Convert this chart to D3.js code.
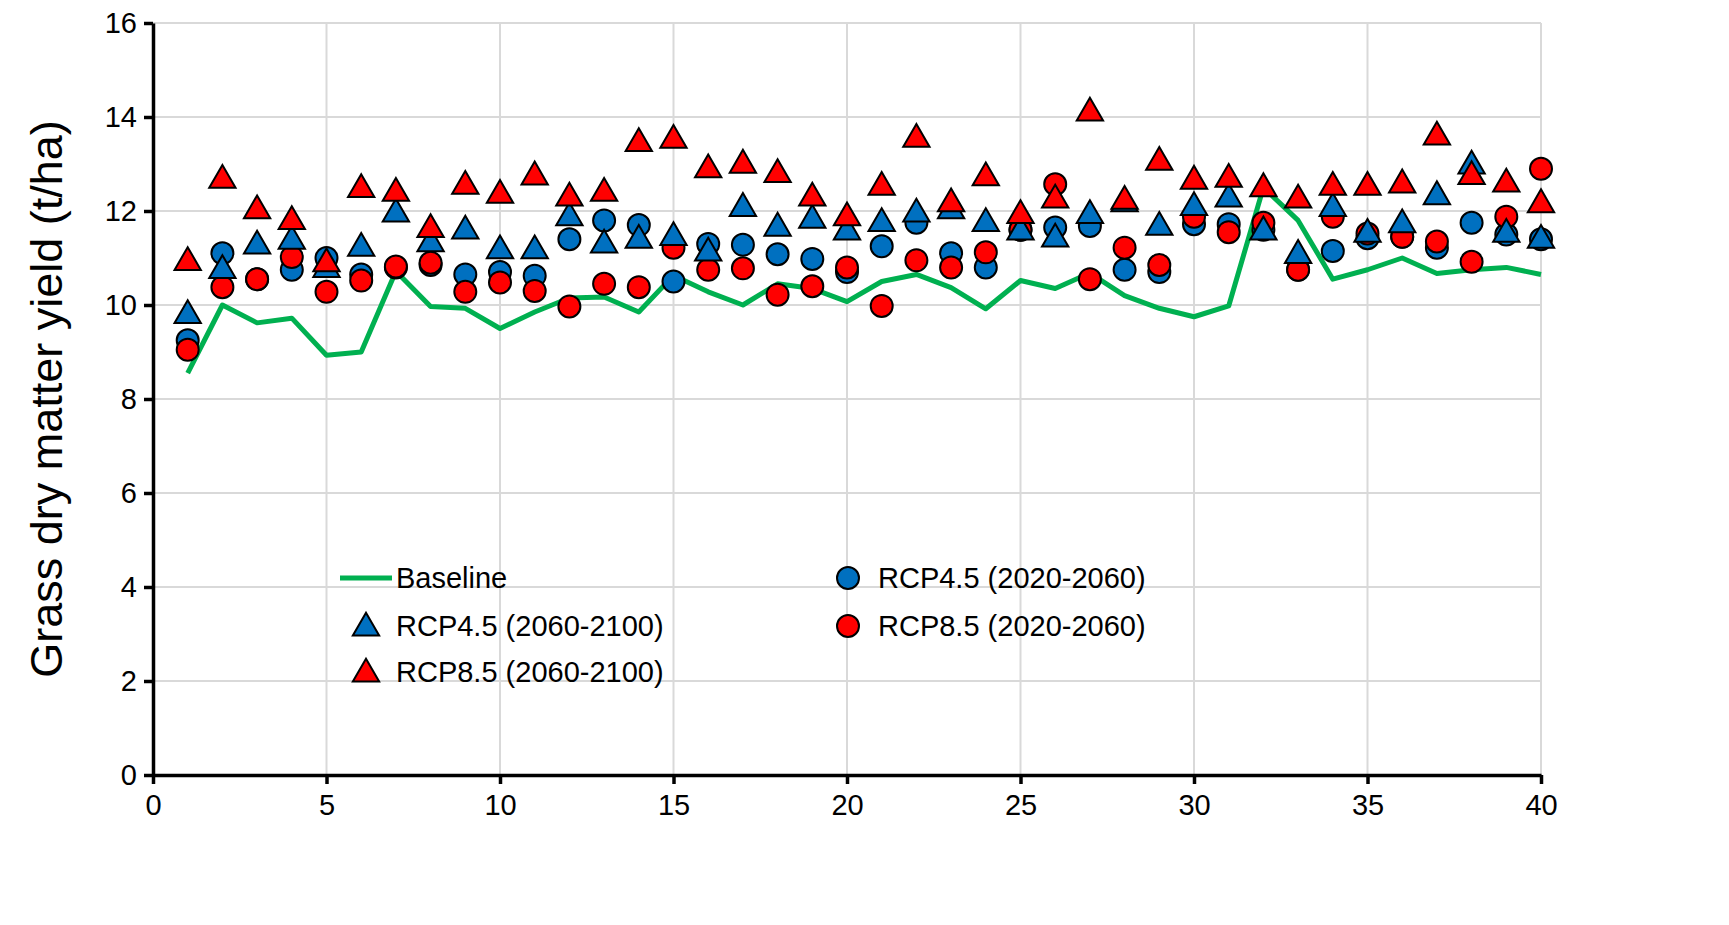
<!DOCTYPE html>
<html>
<head>
<style>
  body { margin: 0; background: #fff; }
  text { font-family: "Liberation Sans", Arial, sans-serif; }
</style>
</head>
<body>
<script src="https://d3js.org/d3.v7.min.js"></script>
<script>
const years = d3.range(1, 41);
const baseline = [8.55,10.0,9.62,9.72,8.93,9.0,10.72,9.97,9.93,9.5,9.85,10.15,10.17,9.85,10.63,10.28,10.0,10.45,10.35,10.07,10.5,10.65,10.37,9.92,10.52,10.35,10.68,10.2,9.93,9.75,9.98,12.5,11.8,10.55,10.75,11.0,10.67,10.75,10.8,10.65];
const rcp45near = [9.25,11.1,10.55,10.75,11.0,10.65,10.8,10.85,10.65,10.7,10.62,11.4,11.8,11.7,10.5,11.3,11.28,11.08,10.98,10.7,11.25,11.75,11.1,10.8,11.6,11.65,11.68,10.75,10.7,11.72,11.72,11.6,10.75,11.15,11.42,11.45,11.22,11.75,11.5,11.4];
const rcp85near = [9.05,10.38,10.55,11.02,10.28,10.52,10.82,10.9,10.28,10.48,10.3,9.97,10.45,10.38,11.22,10.75,10.78,10.22,10.4,10.8,9.98,10.95,10.8,11.12,11.6,12.57,10.55,11.22,10.85,11.88,11.55,11.75,10.75,11.88,11.52,11.45,11.35,10.92,11.88,12.9];
const rcp45far = [9.82,10.78,11.3,11.4,10.8,11.25,11.98,11.35,11.62,11.2,11.2,11.9,11.32,11.42,11.48,11.15,12.1,11.68,11.85,11.6,11.78,11.98,12.05,11.78,11.6,11.45,11.95,12.2,11.7,12.12,12.3,11.6,11.1,12.1,11.55,11.75,12.35,13.0,11.55,11.42];
const rcp85far = [10.95,12.7,12.05,11.82,10.92,12.5,12.42,11.65,12.57,12.38,12.77,12.32,12.42,13.48,13.55,12.92,13.02,12.82,12.32,11.9,12.55,13.57,12.2,12.75,11.95,12.28,14.13,12.25,13.08,12.68,12.72,12.52,12.28,12.55,12.55,12.6,13.62,12.78,12.62,12.18];
const xTicks = [0,5,10,15,20,25,30,35,40];
const yTicks = [0,2,4,6,8,10,12,14,16];

const W = 1729, H = 925;
const blue = "#0070C0", red = "#FF0000", green = "#00B050";
const svg = d3.select("body").append("svg").attr("width", W).attr("height", H);
const x = d3.scaleLinear().domain([0, 40]).range([153, 1541]);
const y = d3.scaleLinear().domain([0, 16]).range([775, 23]);

// grid
svg.append("g").selectAll("line").data(xTicks.slice(1)).join("line")
  .attr("x1", d => x(d)).attr("x2", d => x(d)).attr("y1", y(0)).attr("y2", y(16))
  .attr("stroke", "#d9d9d9").attr("stroke-width", 2);
svg.append("g").selectAll("line").data(yTicks.slice(1)).join("line")
  .attr("x1", x(0)).attr("x2", x(40)).attr("y1", d => y(d)).attr("y2", d => y(d))
  .attr("stroke", "#d9d9d9").attr("stroke-width", 2);

// axes
const xAxis = svg.append("g").attr("transform", `translate(0,${y(0)})`)
  .call(d3.axisBottom(x).tickValues(xTicks).tickSize(9).tickSizeOuter(0));
const yAxis = svg.append("g").attr("transform", `translate(${x(0)},0)`)
  .call(d3.axisLeft(y).tickValues(yTicks).tickSize(9).tickSizeOuter(0));
[xAxis, yAxis].forEach(a => {
  a.select(".domain").attr("stroke", "#000").attr("stroke-width", 3.5);
  a.selectAll(".tick line").attr("stroke", "#000").attr("stroke-width", 3.5);
  a.selectAll("text").attr("font-size", 29).attr("fill", "#000")
    .style("font-family", "'Liberation Sans', Arial, sans-serif");
});
xAxis.selectAll("text").attr("dy", "0.95em").attr("y", 12);
yAxis.selectAll("text").attr("x", -16);

svg.append("text").attr("transform", `translate(62,${y(8)}) rotate(-90)`)
  .attr("text-anchor", "middle").attr("font-size", 45).text("Grass dry matter yield (t/ha)");

// baseline
svg.append("path").datum(baseline)
  .attr("d", d3.line().x((d, i) => x(years[i])).y(d => y(d)))
  .attr("fill", "none").attr("stroke", green).attr("stroke-width", 5).attr("stroke-linejoin", "round");

const tri = d3.symbol().type(d3.symbolTriangle).size(300);
function circles(data, fill) {
  svg.append("g").selectAll("circle").data(data).join("circle")
    .attr("cx", (d, i) => x(years[i])).attr("cy", d => y(d)).attr("r", 11)
    .attr("fill", fill).attr("stroke", "#000").attr("stroke-width", 2);
}
function triangles(data, fill) {
  svg.append("g").selectAll("path").data(data).join("path")
    .attr("d", tri).attr("transform", (d, i) => `translate(${x(years[i])},${y(d) + 2})`)
    .attr("fill", fill).attr("stroke", "#000").attr("stroke-width", 2);
}
circles(rcp45near, blue);
circles(rcp85near, red);
triangles(rcp45far, blue);
triangles(rcp85far, red);

// legend
const leg = svg.append("g");
const items = [
  {t: "Baseline", k: "line", c: green, lx: 340, ly: 578},
  {t: "RCP4.5 (2060-2100)", k: "tri", c: blue, lx: 340, ly: 626},
  {t: "RCP8.5 (2060-2100)", k: "tri", c: red, lx: 340, ly: 672},
  {t: "RCP4.5 (2020-2060)", k: "circ", c: blue, lx: 822, ly: 578},
  {t: "RCP8.5 (2020-2060)", k: "circ", c: red, lx: 822, ly: 626}
];
items.forEach(it => {
  if (it.k === "line") {
    leg.append("line").attr("x1", it.lx).attr("x2", it.lx + 52).attr("y1", it.ly).attr("y2", it.ly)
      .attr("stroke", it.c).attr("stroke-width", 5);
  } else if (it.k === "tri") {
    leg.append("path").attr("d", tri).attr("transform", `translate(${it.lx + 26},${it.ly + 2})`)
      .attr("fill", it.c).attr("stroke", "#000").attr("stroke-width", 2);
  } else {
    leg.append("circle").attr("cx", it.lx + 26).attr("cy", it.ly).attr("r", 11)
      .attr("fill", it.c).attr("stroke", "#000").attr("stroke-width", 2);
  }
  leg.append("text").attr("x", it.lx + 56).attr("y", it.ly).attr("dy", "0.35em")
    .attr("font-size", 29).text(it.t);
});
</script>
</body>
</html>
